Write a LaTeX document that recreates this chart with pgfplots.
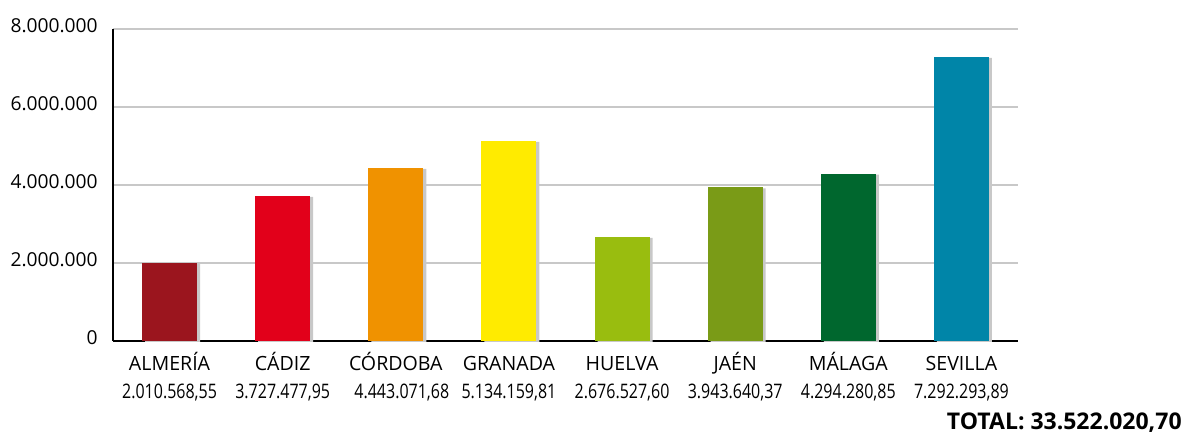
\documentclass[border=0pt]{standalone}
\usepackage{pgfplots}
\pgfplotsset{compat=1.18}
\usepackage{graphicx}
\usepackage{fontspec}
\setmainfont{Open Sans}
\newfontfamily\condfont[FakeStretch=0.8]{Open Sans}
\definecolor{cAlm}{RGB}{155,21,30}
\definecolor{cCad}{RGB}{226,0,26}
\definecolor{cCor}{RGB}{240,146,0}
\definecolor{cGra}{RGB}{255,235,0}
\definecolor{cHue}{RGB}{153,189,15}
\definecolor{cJae}{RGB}{122,155,23}
\definecolor{cMal}{RGB}{0,103,46}
\definecolor{cSev}{RGB}{0,133,168}
\definecolor{shadowgray}{RGB}{200,200,200}
\newcommand\lab[2]{\rule{0pt}{10pt}#1\\{\fontsize{10}{14}\selectfont\condfont #2}}
\begin{document}
\begin{tikzpicture}
\useasboundingbox (-56.5pt,-47pt) rectangle (537pt,170.5pt);
\begin{axis}[
  at={(0,0)}, anchor=south west, scale only axis,
  width=452.5pt, height=156pt,
  xmin=-0.5, xmax=7.5, ymin=0, ymax=8000000,
  axis x line*=bottom, axis y line*=left,
  x axis line style={line width=1.3pt},
  y axis line style={line width=0.8pt},
  xtick={0,1,2,3,4,5,6,7},
  ytick={0,2000000,4000000,6000000,8000000},
  yticklabels={0,2.000.000,4.000.000,6.000.000,8.000.000},
  xticklabels={
    {\lab{ALMERÍA}{2.010.568,55}},
    {\lab{CÁDIZ}{3.727.477,95}},
    {\lab{CÓRDOBA}{\hspace*{6pt}4.443.071,68}},
    {\lab{GRANADA}{5.134.159,81}},
    {\lab{HUELVA}{2.676.527,60}},
    {\lab{JAÉN}{3.943.640,37}},
    {\lab{MÁLAGA}{4.294.280,85}},
    {\lab{SEVILLA}{7.292.293,89}}},
  major tick length=0pt,
  scaled y ticks=false,
  ymajorgrids,
  grid style={draw=shadowgray, line width=0.7pt},
  yticklabel style={anchor=east, inner sep=0pt, xshift=-7.5pt, yshift=1.5pt, font=\fontsize{9.6}{12}\selectfont},
  xticklabel style={anchor=north, align=center, inner sep=0pt, yshift=-4.5pt, font=\fontsize{9.8}{14}\selectfont},
  bar width=27.5pt,
]
\addplot[ybar, bar shift=1.5pt, fill=shadowgray, draw=none, yshift=-0.6pt] coordinates {
  (0,2010568.55) (1,3727477.95) (2,4443071.68) (3,5134159.81)
  (4,2676527.60) (5,3943640.37) (6,4294280.85) (7,7292293.89)};
\addplot[ybar, bar shift=0pt, fill=cAlm, draw=none] coordinates {(0,2010568.55)};
\addplot[ybar, bar shift=0pt, fill=cCad, draw=none] coordinates {(1,3727477.95)};
\addplot[ybar, bar shift=0pt, fill=cCor, draw=none] coordinates {(2,4443071.68)};
\addplot[ybar, bar shift=0pt, fill=cGra, draw=none] coordinates {(3,5134159.81)};
\addplot[ybar, bar shift=0pt, fill=cHue, draw=none] coordinates {(4,2676527.60)};
\addplot[ybar, bar shift=0pt, fill=cJae, draw=none] coordinates {(5,3943640.37)};
\addplot[ybar, bar shift=0pt, fill=cMal, draw=none] coordinates {(6,4294280.85)};
\addplot[ybar, bar shift=0pt, fill=cSev, draw=none] coordinates {(7,7292293.89)};
\end{axis}
\node[anchor=base east, inner sep=0pt, font=\fontsize{11.5}{14}\selectfont\bfseries] at (534.5pt,-44pt) {TOTAL: 33.522.020,70};
\end{tikzpicture}
\end{document}
